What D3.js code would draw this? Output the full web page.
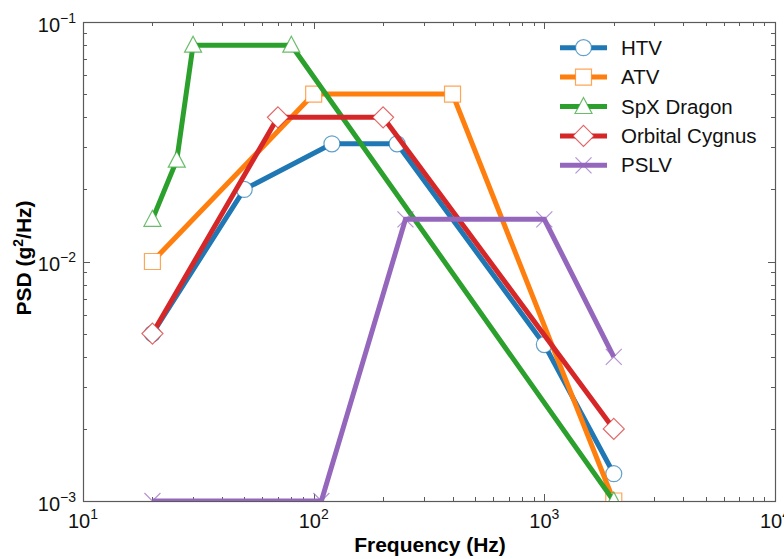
<!DOCTYPE html>
<html>
<head>
<meta charset="utf-8">
<script src="https://cdn.jsdelivr.net/npm/d3@7"></script>
<style>
  body { margin: 0; background: #fff; }
  svg { display: block; font-family: "Liberation Sans", Arial, sans-serif; }
</style>
</head>
<body>
<svg width="784" height="559"></svg>
<script>
// data
var seriesNames = ["HTV", "ATV", "SpX Dragon", "Orbital Cygnus", "PSLV"];
var htvFreq = [20, 50, 120, 230, 1000, 2000];
var htvPsd  = [0.005, 0.02, 0.031, 0.031, 0.0045, 0.0013];
var atvFreq = [20, 100, 400, 2000];
var atvPsd  = [0.01, 0.05, 0.05, 0.001];
var spxFreq = [20, 25.5, 30, 80, 2000];
var spxPsd  = [0.015, 0.0265, 0.08, 0.08, 0.001];
var cygFreq = [20, 70, 200, 2000];
var cygPsd  = [0.005, 0.04, 0.04, 0.002];
var pslvFreq = [20, 108, 250, 1000, 2000];
var pslvPsd  = [0.001, 0.001, 0.015, 0.015, 0.004];
var xTickExp = [1, 2, 3, 4];
var yTickExp = [-3, -2, -1];

var colors = ["#1f77b4", "#ff7f0e", "#2ca02c", "#d62728", "#9467bd"];
var markers = ["circle", "square", "triangle", "diamond", "cross"];

var series = [
  {name: seriesNames[0], f: htvFreq, p: htvPsd},
  {name: seriesNames[1], f: atvFreq, p: atvPsd},
  {name: seriesNames[2], f: spxFreq, p: spxPsd},
  {name: seriesNames[3], f: cygFreq, p: cygPsd},
  {name: seriesNames[4], f: pslvFreq, p: pslvPsd}
];

var svg = d3.select("svg");
var pLeft = 83, pRight = 775, pTop = 22, pBottom = 501;

var x = d3.scaleLog().domain([10, 1e4]).range([pLeft, pRight]);
var y = d3.scaleLog().domain([1e-3, 1e-1]).range([pBottom, pTop]);

svg.append("defs").append("clipPath").attr("id", "plotclip")
  .append("rect")
  .attr("x", pLeft).attr("y", pTop)
  .attr("width", pRight - pLeft).attr("height", pBottom - pTop);

// ticks (inward on all four sides)
var axisColor = "#5a5a5a";
var gt = svg.append("g").attr("stroke", axisColor).attr("stroke-width", 1);

var xMinor = [], yMinor = [];
for (var e = 1; e < 4; e++) for (var m = 2; m <= 9; m++) xMinor.push(m * Math.pow(10, e));
for (var e2 = -3; e2 < -1; e2++) for (var m2 = 2; m2 <= 9; m2++) yMinor.push(m2 * Math.pow(10, e2));

function xTicks(vals, len) {
  vals.forEach(function(v) {
    var px = Math.round(x(v)) + 0.5;
    gt.append("line").attr("x1", px).attr("x2", px).attr("y1", pBottom).attr("y2", pBottom - len);
    gt.append("line").attr("x1", px).attr("x2", px).attr("y1", pTop).attr("y2", pTop + len);
  });
}
function yTicks(vals, len) {
  vals.forEach(function(v) {
    var py = Math.round(y(v)) + 0.5;
    gt.append("line").attr("x1", pLeft).attr("x2", pLeft + len).attr("y1", py).attr("y2", py);
    gt.append("line").attr("x1", pRight).attr("x2", pRight - len).attr("y1", py).attr("y2", py);
  });
}
xTicks(xTickExp.map(function(d) { return Math.pow(10, d); }), 7);
xTicks(xMinor, 4);
yTicks(yTickExp.map(function(d) { return Math.pow(10, d); }), 7);
yTicks(yMinor, 4);

svg.append("rect")
  .attr("x", pLeft + 0.5).attr("y", pTop + 0.5)
  .attr("width", pRight - pLeft).attr("height", pBottom - pTop)
  .attr("fill", "none").attr("stroke", axisColor).attr("stroke-width", 1.2);

// tick labels
xTickExp.forEach(function(d) {
  var t = svg.append("text")
    .attr("x", x(Math.pow(10, d))).attr("y", 528)
    .attr("text-anchor", "middle")
    .attr("font-size", 20).attr("fill", "#111");
  t.append("tspan").text("10");
  t.append("tspan").attr("dy", -9).attr("font-size", 14).text(d);
});
yTickExp.forEach(function(d) {
  var t = svg.append("text")
    .attr("x", 76).attr("y", y(Math.pow(10, d)) + 9.5)
    .attr("text-anchor", "end")
    .attr("font-size", 20).attr("fill", "#111");
  t.append("tspan").text("10");
  t.append("tspan").attr("dy", -9).attr("font-size", 14).text("\u2212" + Math.abs(d));
});

// axis titles
svg.append("text")
  .attr("x", 430).attr("y", 552)
  .attr("text-anchor", "middle")
  .attr("font-size", 21).attr("font-weight", "bold")
  .text("Frequency (Hz)");

var yl = svg.append("text")
  .attr("transform", "translate(31,258) rotate(-90)")
  .attr("text-anchor", "middle")
  .attr("font-size", 21).attr("font-weight", "bold");
yl.append("tspan").text("PSD (g");
yl.append("tspan").attr("dy", -8).attr("font-size", 14).text("2");
yl.append("tspan").attr("dy", 8).text("/Hz)");

// marker shapes
var symbolPath = {
  circle: d3.symbol().type(d3.symbolCircle).size(Math.PI * 8 * 8)(),
  square: "M-8,-8H8V8H-8Z",
  triangle: "M0,-9L8.5,7H-8.5Z",
  diamond: "M0,-10.5L10.5,0L0,10.5L-10.5,0Z",
  cross: "M-8,-8L8,8M-8,8L8,-8"
};

function drawMarker(g, type, color) {
  g.append("path")
    .attr("d", symbolPath[type])
    .attr("fill", type === "cross" ? "none" : "#fff")
    .attr("stroke", color)
    .attr("stroke-opacity", 0.7)
    .attr("stroke-width", 1.2);
}

var line = d3.line()
  .x(function(d) { return x(d[0]); })
  .y(function(d) { return y(d[1]); });

var plot = svg.append("g").attr("clip-path", "url(#plotclip)");

series.forEach(function(s, i) {
  var pts = s.f.map(function(f, k) { return [f, s.p[k]]; });
  var g = plot.append("g");
  g.append("path")
    .datum(pts)
    .attr("d", line)
    .attr("fill", "none")
    .attr("stroke", colors[i])
    .attr("stroke-width", 5)
    .attr("stroke-linejoin", "miter");
  g.selectAll("g.mk")
    .data(pts)
    .enter().append("g")
    .attr("class", "mk")
    .attr("transform", function(d) { return "translate(" + x(d[0]) + "," + y(d[1]) + ")"; })
    .each(function() { drawMarker(d3.select(this), markers[i], colors[i]); });
});

// legend
var leg = svg.append("g");
series.forEach(function(s, i) {
  var cy = 47.7 + i * 29.4;
  var row = leg.append("g").attr("transform", "translate(0," + cy + ")");
  row.append("line")
    .attr("x1", 560).attr("x2", 607)
    .attr("stroke", colors[i]).attr("stroke-width", 5);
  var mk = row.append("g").attr("transform", "translate(583.5,0)");
  drawMarker(mk, markers[i], colors[i]);
  row.append("text")
    .attr("x", 621).attr("y", 7)
    .attr("font-size", 20.5).attr("fill", "#111")
    .text(s.name);
});
</script>
</body>
</html>
